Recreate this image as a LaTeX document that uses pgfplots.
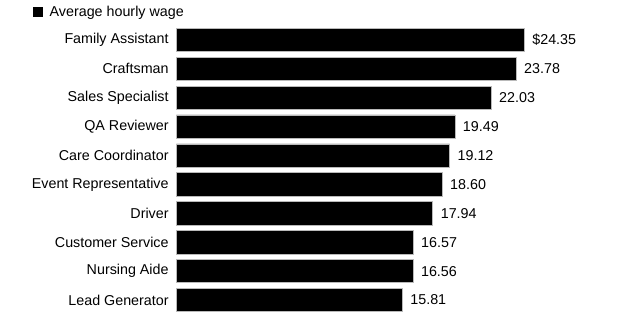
\documentclass[border=0pt]{standalone}
\usepackage{pgfplots}
\pgfplotsset{compat=1.18}
\usepackage{fontspec}
\setmainfont{Liberation Sans}
\newcommand{\lblfont}{\fontsize{14.3}{16}\selectfont}
\begin{document}
\begin{tikzpicture}[x=1pt,y=1pt]
\useasboundingbox (0,0) rectangle (624,332);
\begin{axis}[
  at={(176.4pt,17.55pt)}, anchor=south west,
  scale only axis, width=428.6pt, height=289pt,
  xmin=0, xmax=30, ymin=-0.5, ymax=9.5,
  axis line style={draw=none}, major tick length=0pt,
  xtick=\empty, ytick={0,...,9},
  yticklabels={Lead Generator, Nursing Aide, Customer Service, Driver, Event Representative, Care Coordinator, QA Reviewer, Sales Specialist, Craftsman, Family Assistant},
  yticklabel style={font=\lblfont, inner sep=0pt, xshift=-7.6pt},
  xbar, bar width=23.3pt, bar shift=0pt,
  point meta=explicit symbolic,
  nodes near coords,
  nodes near coords style={font=\lblfont, anchor=west, inner sep=0pt, xshift=7.8pt, text=black},
  legend style={at={(axis description cs:-0.3346,1.045)}, anchor=west, draw=none, fill=none, inner sep=0pt, font=\lblfont},
  legend cell align=left,
  legend image code/.code={\path[fill=black, draw=none] (0pt,-5pt) rectangle (10pt,5pt); \path[draw=none, fill=none] (0pt,0pt) rectangle (14.5pt,0pt);},
  clip=false,
]
\addplot[fill=black, draw=gray!55, line width=0.6pt] coordinates {
  (15.81,0) [15.81]
  (16.56,1) [16.56]
  (16.57,2) [16.57]
  (17.94,3) [17.94]
  (18.60,4) [18.60]
  (19.12,5) [19.12]
  (19.49,6) [19.49]
  (22.03,7) [22.03]
  (23.78,8) [23.78]
  (24.35,9) [\$24.35]
};
\addlegendentry{Average hourly wage}
\end{axis}
\end{tikzpicture}
\end{document}
